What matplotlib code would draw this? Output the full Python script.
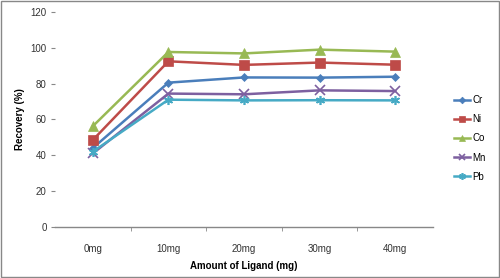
import matplotlib
matplotlib.use("Agg")
import matplotlib.pyplot as plt
from matplotlib.patches import Rectangle

categories = ["0mg", "10mg", "20mg", "30mg", "40mg"]
series_names = ["Cr", "Ni", "Co", "Mn", "Pb"]
cr = [44, 80.5, 83.4, 83.3, 83.8]
ni = [48.5, 92.4, 90.4, 91.7, 90.5]
co = [56.2, 97.6, 96.8, 98.9, 97.8]
mn = [41, 74.4, 74.0, 76.2, 75.8]
pb = [42, 71.0, 70.6, 70.7, 70.6]
yticks = [0, 20, 40, 60, 80, 100, 120]

colors = ["#4A7EBB", "#BE4B48", "#98B954", "#7D60A0", "#46AAC5"]
markers = ["D", "s", "^", "x", (6, 2, 0)]
msizes = [4.5, 6.5, 6.5, 6.5, 6.5]

plt.rcParams['font.family'] = ['Liberation Sans', 'DejaVu Sans']

fig = plt.figure(figsize=(5, 2.78), dpi=100)
ax = fig.add_axes([0.11, 0.1835, 0.756, 0.774])
x = list(range(len(categories)))
for name, vals, c, m, ms in zip(series_names, [cr, ni, co, mn, pb], colors, markers, msizes):
    ax.plot(x, vals, color=c, marker=m, markersize=ms, linewidth=1.8,
            markeredgewidth=1.2 if m in ("x",) or isinstance(m, tuple) else 0.5,
            markeredgecolor=c, label=name)

ax.set_xlim(-0.5, 4.5)
ax.set_ylim(0, 120)
ax.set_yticks(yticks)
ax.set_xticks(x)
ax.set_xticklabels(categories)
ax.set_xticks([0.5, 1.5, 2.5, 3.5], minor=True)
ax.tick_params(axis='x', which='major', length=0, labelsize=7, pad=12, colors='#333333')
ax.tick_params(axis='x', which='minor', length=3, color='#888888', direction='out')
ax.tick_params(axis='y', length=3, color='#888888', labelsize=7, pad=3, labelcolor='#333333')
for s in ['top', 'right', 'left']:
    ax.spines[s].set_visible(False)
ax.spines['bottom'].set_color('#888888')
ax.spines['bottom'].set_linewidth(1)

ax.set_xlabel("Amount of Ligand (mg)", fontsize=7, fontweight='bold', labelpad=5)
ax.set_ylabel("Recovery (%)", fontsize=7, fontweight='bold', labelpad=4)

fig.legend(loc='upper left', bbox_to_anchor=(0.89, 0.69), frameon=False,
           fontsize=7, handlelength=1.7, labelspacing=0.95, handletextpad=0.2,
           markerscale=0.75)

fig.patches.append(Rectangle((0.002, 0.003), 0.996, 0.994, transform=fig.transFigure,
                             fill=False, edgecolor='#888888', linewidth=1))
fig.savefig("out.png", dpi=100)
